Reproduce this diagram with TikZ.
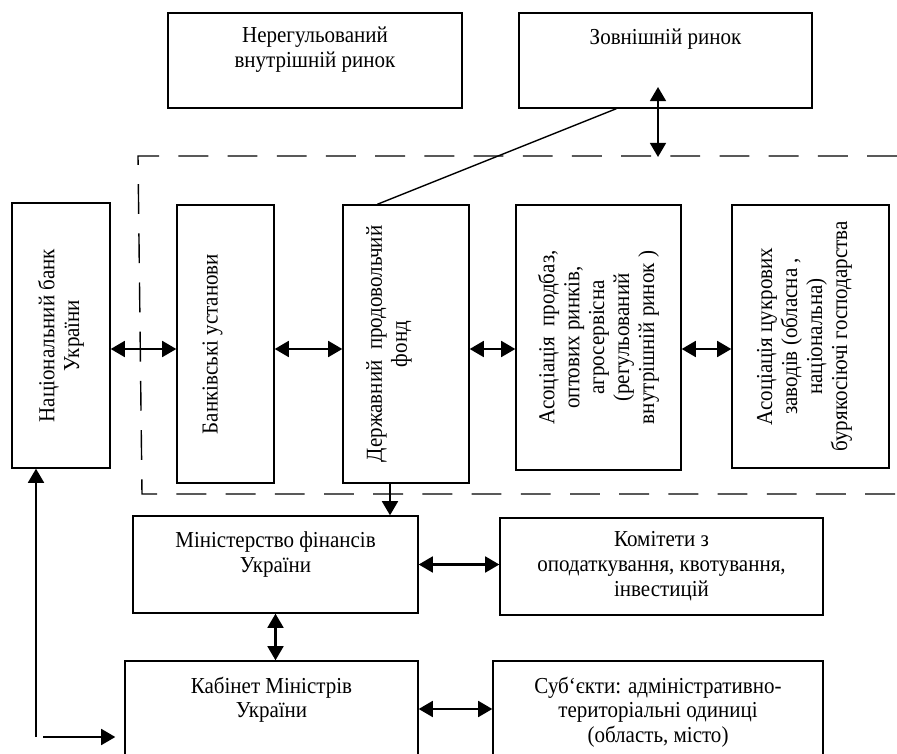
\documentclass[tikz,border=0pt]{standalone}
\usepackage{fontspec}
\setmainfont{Liberation Serif}[FakeStretch=0.92]
\usetikzlibrary{arrows.meta,positioning,fit,calc}
\tikzset{
	box/.style={draw, line width=0.8pt, inner sep=0pt},
	txt/.style={align=center, inner sep=0pt, font=\fontsize{13}{14.2}\selectfont},
	vtxt/.style={txt, rotate=90},
	>={Triangle[length=8pt,width=9pt]}, % filled heads
	link/.style={<->, line width=1.3pt},
	onearr/.style={->, line width=1.3pt},
	frame/.style={line width=0.8pt, dash pattern=on 17pt off 11pt},
}

\begin{document}
\begin{tikzpicture}[x=0.02cm, y=-0.02cm]
	\useasboundingbox (0,0) rectangle (897,754);
	\clip (0,0) rectangle (897,754);

	% markets
	\node[box, fit={(168,13) (462,108)}] (nonreg) {};
	\node[box, fit={(519,13) (812,108)}] (zovn) {};
	\node[txt, below=0.28cm of nonreg.north] (nonregT) {Нерегульований\\внутрішній ринок};
	\node[txt, below=0.32cm of zovn.north] (zovnT) {Зовнішній ринок};

	% dashed region
	\draw[frame] (897,156) -- (138,156) -- (142,494) -- (897,494);

	% middle row
	\node[box, fit={(12,203) (110,468)}] (natbank) {};
	\node[box, fit={(177,205) (274,483)}] (bank) {};
	\node[box, fit={(343,205) (469,483)}] (fund) {};
	\node[box, fit={(516,205) (681,470)}] (asoc) {};
	\node[box, fit={(732,205) (889,468)}] (sugar) {};
	\node[vtxt] (natbankT) at (natbank) {Національний банк\\України};
	\node[vtxt] (bankT) at ([xshift=-0.26cm]bank.center) {Банківські установи};
	\node[vtxt] (fundT) at ([xshift=-0.34cm]fund.center) {Державний~ продовольчий\\фонд};
	\node[vtxt] (asocT) at (asoc) {Асоціація~ продбаз,\\оптових ринків,\\агросервісна\\(регульований\\внутрішній ринок )};
	\node[vtxt] (sugarT) at ([xshift=-0.12cm]sugar.center) {Асоціація цукрових\\заводів (обласна ,\\національна)\\бурякосіючі господарства};

	% government
	\node[box, fit={(133,516) (418,613)}] (minfin) {};
	\node[box, fit={(500,518) (823,615)}] (komit) {};
	\node[box, fit={(125,661) (418,770)}] (kab) {};
	\node[box, fit={(493,661) (823,770)}] (subj) {};
	\node[txt, below=0.32cm of minfin.north] (minfinT) {Міністерство фінансів\\України};
	\node[txt] (komitT) at (komit) {Комітети з\\оподаткування, квотування,\\інвестицій};
	\node[txt, below=0.32cm of kab.north] (kabT) {Кабінет Міністрів\\України};
	\node[txt, below=0.32cm of subj.north] (subjT) {Суб‘єкти: адміністративно-\\територіальні одиниці\\(область, місто)};

	% connectors
	\coordinate (zt) at (658,87);
	\coordinate (rowA) at (0,349);
	\coordinate (colF) at (390,0);
	\coordinate (rowK) at (0,709);
	\coordinate (corner) at (36,737);
	\draw[link] (zt) -- (zt |- 0,157);
	\draw[line width=0.8pt] ($(zovn.south west)+(98,0)$) -- ($(fund.north west)+(35,0)$);
	\draw[link] (natbank.east |- rowA) -- (bank.west |- rowA);
	\draw[link] (bank.east |- rowA) -- (fund.west |- rowA);
	\draw[link] (fund.east |- rowA) -- (asoc.west |- rowA);
	\draw[link] (asoc.east |- rowA) -- (sugar.west |- rowA);
	\draw[onearr] (colF |- fund.south) -- (colF |- minfin.north);
	\draw[link] (minfin.south) -- (minfin.south |- kab.north);
	\draw[link] (minfin.east) -- (minfin.east -| komit.west);
	\draw[link] (kab.east |- rowK) -- (subj.west |- rowK);
	\draw[onearr] (corner) -- (corner |- natbank.south);
	\draw[onearr] ($(corner)+(7,0)$) -- ($(corner -| kab.west)+(-9,0)$);
\end{tikzpicture}
\end{document}
